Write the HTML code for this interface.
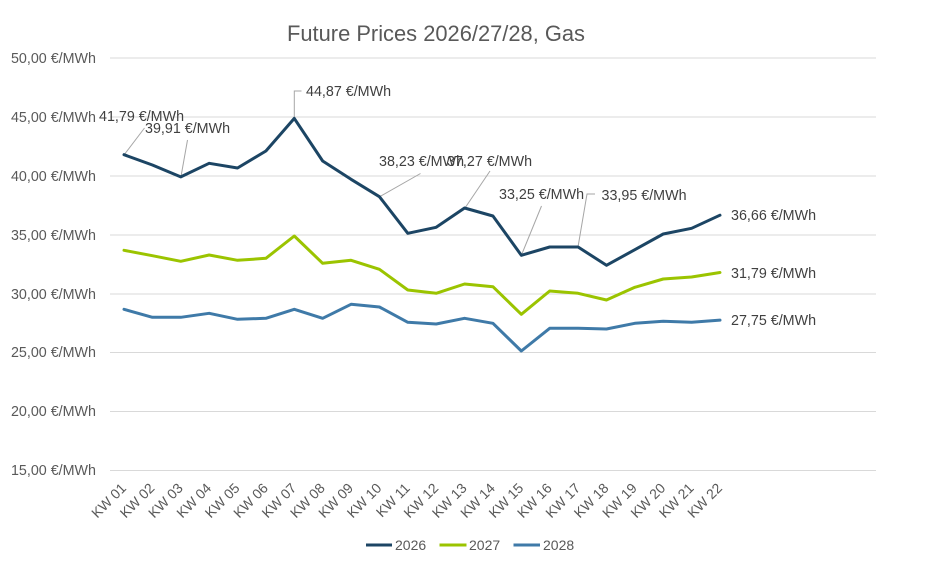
<!DOCTYPE html>
<html>
<head>
<meta charset="utf-8">
<style>
  html, body { margin:0; padding:0; background:#ffffff; }
  svg { display:block; font-family:"Liberation Sans", sans-serif; }
</style>
</head>
<body>
<svg width="936" height="567" viewBox="0 0 936 567" xmlns="http://www.w3.org/2000/svg">
  <rect x="0" y="0" width="936" height="567" fill="#ffffff"/>

  <!-- Title -->
  <text x="436" y="41" text-anchor="middle" font-size="22" fill="#595959" textLength="298" lengthAdjust="spacingAndGlyphs">Future Prices 2026/27/28, Gas</text>

  <!-- Gridlines -->
  <g stroke="#d9d9d9" stroke-width="1">
    <line x1="110" y1="58" x2="876" y2="58"/>
    <line x1="110" y1="117" x2="876" y2="117"/>
    <line x1="110" y1="176" x2="876" y2="176"/>
    <line x1="110" y1="235" x2="876" y2="235"/>
    <line x1="110" y1="294" x2="876" y2="294"/>
    <line x1="110" y1="352.5" x2="876" y2="352.5"/>
    <line x1="110" y1="411.5" x2="876" y2="411.5"/>
    <line x1="110" y1="470.5" x2="876" y2="470.5"/>
  </g>

  <!-- Y axis labels -->
  <g font-size="14.3" fill="#595959" text-anchor="end">
    <text x="96" y="63">50,00 €/MWh</text>
    <text x="96" y="122">45,00 €/MWh</text>
    <text x="96" y="181">40,00 €/MWh</text>
    <text x="96" y="240">35,00 €/MWh</text>
    <text x="96" y="299">30,00 €/MWh</text>
    <text x="96" y="357">25,00 €/MWh</text>
    <text x="96" y="416">20,00 €/MWh</text>
    <text x="96" y="475">15,00 €/MWh</text>
  </g>

  <!-- X axis labels -->
  <g font-size="14" fill="#595959" text-anchor="end">
    <text transform="translate(127,489) rotate(-45)">KW 01</text>
    <text transform="translate(155.4,489) rotate(-45)">KW 02</text>
    <text transform="translate(183.8,489) rotate(-45)">KW 03</text>
    <text transform="translate(212.1,489) rotate(-45)">KW 04</text>
    <text transform="translate(240.5,489) rotate(-45)">KW 05</text>
    <text transform="translate(268.9,489) rotate(-45)">KW 06</text>
    <text transform="translate(297.3,489) rotate(-45)">KW 07</text>
    <text transform="translate(325.7,489) rotate(-45)">KW 08</text>
    <text transform="translate(354,489) rotate(-45)">KW 09</text>
    <text transform="translate(382.4,489) rotate(-45)">KW 10</text>
    <text transform="translate(410.8,489) rotate(-45)">KW 11</text>
    <text transform="translate(439.2,489) rotate(-45)">KW 12</text>
    <text transform="translate(467.6,489) rotate(-45)">KW 13</text>
    <text transform="translate(495.9,489) rotate(-45)">KW 14</text>
    <text transform="translate(524.3,489) rotate(-45)">KW 15</text>
    <text transform="translate(552.7,489) rotate(-45)">KW 16</text>
    <text transform="translate(581.1,489) rotate(-45)">KW 17</text>
    <text transform="translate(609.5,489) rotate(-45)">KW 18</text>
    <text transform="translate(637.8,489) rotate(-45)">KW 19</text>
    <text transform="translate(666.2,489) rotate(-45)">KW 20</text>
    <text transform="translate(694.6,489) rotate(-45)">KW 21</text>
    <text transform="translate(723,489) rotate(-45)">KW 22</text>
  </g>

  <!-- Leader lines -->
  <g stroke="#a6a6a6" stroke-width="1" fill="none">
    <polyline points="124,155 144.5,128"/>
    <polyline points="181,176.5 187.5,140"/>
    <polyline points="294.3,118.5 294.3,91 301.5,91"/>
    <polyline points="380,196.5 420.5,173.5"/>
    <polyline points="465,208 490,171"/>
    <polyline points="521.5,255 541.5,206"/>
    <polyline points="578,247 587,194 595,194"/>
  </g>

  <!-- Series 2028 -->
  <polyline fill="none" stroke="#3f7aa8" stroke-width="3" stroke-linejoin="round" stroke-linecap="round"
    points="124,309.3 152.38,317.3 180.76,317.3 209.14,313.3 237.52,319.3 265.9,318.3 294.28,309.3 322.66,318.3 351.04,304.3 379.42,307 407.8,322.3 436.18,324 464.56,318.3 492.94,323.3 521.32,351 549.7,328.3 578.08,328.3 606.46,329 634.84,323.3 663.22,321.3 691.6,322.3 719.98,320.1"/>

  <!-- Series 2027 -->
  <polyline fill="none" stroke="#9bc400" stroke-width="3" stroke-linejoin="round" stroke-linecap="round"
    points="124,250.3 152.38,255.7 180.76,261.3 209.14,255 237.52,260.3 265.9,258.3 294.28,236 322.66,263.3 351.04,260.3 379.42,269.3 407.8,290 436.18,293.3 464.56,284 492.94,286.7 521.32,314.3 549.7,291 578.08,293.3 606.46,300 634.84,287.3 663.22,279 691.6,277 719.98,272.5"/>

  <!-- Series 2026 -->
  <polyline fill="none" stroke="#1c4564" stroke-width="3" stroke-linejoin="round" stroke-linecap="round"
    points="124,154.7 152.38,165 180.76,176.9 209.14,163.3 237.52,168 265.9,151 294.28,118.4 322.66,161 351.04,179.3 379.42,196.7 407.8,233.3 436.18,227.3 464.56,208 492.94,216 521.32,255.3 549.7,247 578.08,247 606.46,265.3 634.84,249.7 663.22,234 691.6,228.3 719.98,215.2"/>

  <!-- Data labels -->
  <g font-size="14.3" fill="#404040">
    <text x="99" y="121">41,79 €/MWh</text>
    <text x="145" y="133">39,91 €/MWh</text>
    <text x="306" y="96">44,87 €/MWh</text>
    <text x="379" y="166">38,23 €/MWh</text>
    <text x="447" y="166">37,27 €/MWh</text>
    <text x="499" y="199">33,25 €/MWh</text>
    <text x="601.5" y="200">33,95 €/MWh</text>
    <text x="731" y="220">36,66 €/MWh</text>
    <text x="731" y="278">31,79 €/MWh</text>
    <text x="731" y="325">27,75 €/MWh</text>
  </g>

  <!-- Legend -->
  <g stroke-width="3">
    <line x1="366" y1="545" x2="392" y2="545" stroke="#1c4564"/>
    <line x1="439.5" y1="545" x2="466.5" y2="545" stroke="#9bc400"/>
    <line x1="513.5" y1="545" x2="540" y2="545" stroke="#3f7aa8"/>
  </g>
  <g font-size="14" fill="#595959">
    <text x="395" y="550">2026</text>
    <text x="469" y="550">2027</text>
    <text x="543" y="550">2028</text>
  </g>
</svg>
</body>
</html>
